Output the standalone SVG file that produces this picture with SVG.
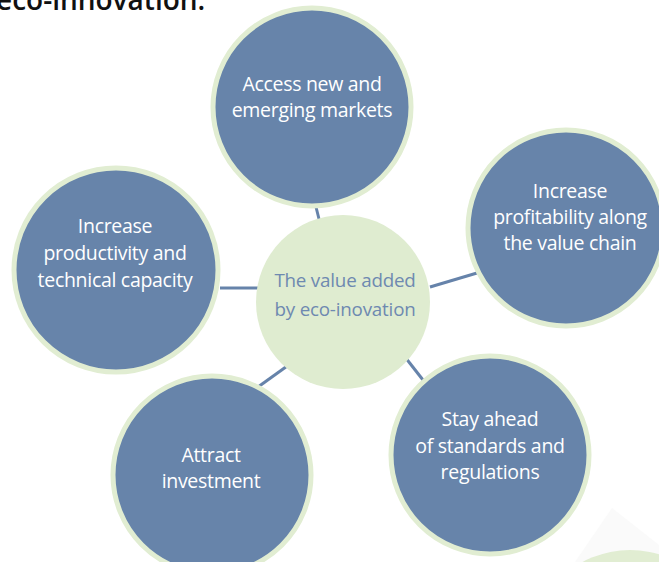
<svg xmlns="http://www.w3.org/2000/svg" width="659" height="562" viewBox="0 0 659 562">
<style>
.node{fill:#6784aa;stroke:#e1edd2;stroke-width:5}
.ctr{fill:#dfecd0}
.t{font-family:"Open Sans","Liberation Sans",sans-serif;font-size:19.5px;fill:#ffffff;text-anchor:middle;letter-spacing:-0.3px}
.ct{font-family:"Open Sans","Liberation Sans",sans-serif;font-size:18.8px;fill:#6e89b0;text-anchor:middle;letter-spacing:-0.2px}
.conn line{stroke:#6683aa;stroke-width:3}
</style>
<rect width="659" height="562" fill="#ffffff"/>
<text x="-4" y="10" font-family="'Open Sans','Liberation Sans',sans-serif" font-size="28" font-weight="600" fill="#111111">eco-innovation.</text>
<polygon points="612,508 575,562 659,562 659,545" fill="#fafafa"/>
<circle cx="630" cy="650" r="100" fill="#e1edd2"/>
<g id="connectors" class="conn">
<line x1="316" y1="207" x2="319" y2="219"/>
<line x1="220" y1="288" x2="259" y2="288"/>
<line x1="430" y1="287" x2="477" y2="273"/>
<line x1="405" y1="357" x2="423" y2="380"/>
<line x1="258" y1="387" x2="290" y2="364"/>
</g>
<g id="center">
<circle class="ctr" cx="343" cy="302" r="87"/>
<text class="ct" x="345" y="287">The value added</text>
<text class="ct" x="345" y="316">by eco-inovation</text>
</g>
<g id="access">
<circle class="node" cx="312" cy="107" r="99"/>
<text class="t" x="312" y="91">Access new and</text>
<text class="t" x="312" y="117">emerging markets</text>
</g>
<g id="productivity">
<circle class="node" cx="116" cy="270" r="102"/>
<text class="t" x="115" y="233">Increase</text>
<text class="t" x="115" y="260">productivity and</text>
<text class="t" x="115" y="287">technical capacity</text>
</g>
<g id="profitability">
<circle class="node" cx="566" cy="228" r="98"/>
<text class="t" x="570" y="198">Increase</text>
<text class="t" x="570" y="224">profitability along</text>
<text class="t" x="570" y="250">the value chain</text>
</g>
<g id="standards">
<circle class="node" cx="490" cy="455" r="99"/>
<text class="t" x="490" y="426">Stay ahead</text>
<text class="t" x="490" y="453">of standards and</text>
<text class="t" x="490" y="479">regulations</text>
</g>
<g id="investment">
<circle class="node" cx="212" cy="475" r="99"/>
<text class="t" x="211" y="462">Attract</text>
<text class="t" x="211" y="488">investment</text>
</g>
</svg>
